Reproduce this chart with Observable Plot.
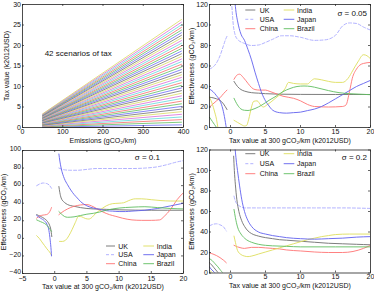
<!DOCTYPE html>
<html><head><meta charset="utf-8">
<script src="https://cdn.jsdelivr.net/npm/d3@7"></script>
<script src="https://cdn.jsdelivr.net/npm/@observablehq/plot@0.6"></script>
<style>
body{margin:0;background:#fff;}
#wrap{position:relative;width:374px;height:294px;overflow:hidden;background:#fff;}
.panel{position:absolute;}
#overlay{position:absolute;left:0;top:0;pointer-events:none;}
</style></head><body><div id="wrap"></div>
<script>
// ---------- DATA ----------
// Panel 1: 42 tax scenarios, expressed as tax value at 300 gCO2/km (k2012USD)
const scenarioTaxAt300 = [0, 0.49, 0.98, 1.46, 1.95, 2.44, 2.93, 3.41, 3.90, 4.39, 4.88, 5.37, 5.85, 6.34,
  6.83, 7.32, 7.80, 8.29, 8.78, 9.27, 9.76, 10.24, 10.73, 11.22, 11.71, 12.20, 12.68, 13.17, 13.66, 14.15,
  14.63, 15.12, 15.61, 16.10, 16.59, 17.07, 17.56, 18.05, 18.54, 19.02, 19.51, 20.0];
const emissionsRange = [50, 395];
const scenarioColors = ["#6b6bf5","#5fbf5f","#f56b6b","#5fd9d9","#d96bd9","#d9d95f","#707070"];

const countries = ["UK","USA","China","India","Japan","Brazil"];
const countryColors = {UK:"#6e6e6e", USA:"#a9a9ff", China:"#ff7373", India:"#dede5c", Japan:"#6161ee", Brazil:"#60bd60"};

// sigma = 0.05
const s005_UK = [[-3,29.5],[-2.5,29],[-2,28],[-1.5,26.5],[-1,23],[-0.5,17.5],[0,null],
  [0.5,45],[1,40],[1.5,37],[2,35.5],[3,34],[4,33.5],[5,33],[7,32.5],[10,32.3],[15,32.2],[20,32.2]];
const s005_USA = [[-3,57],[-2.5,59],[-2,63],[-1.5,70],[-1,80],[-0.7,86],[-0.5,89],[0,null],
  [0.2,118],[0.4,100],[0.6,92],[1,86],[2,82],[3,80],[4,80.5],[5,83],[6,86],[7.3,89.5],[8.5,89.5],[10,88],
  [12,85],[13.5,85.5],[15,90],[16,99],[17,102],[18,101.5],[19,98],[20,95]];
const s005_China = [[-3,20],[-2.5,23],[-2,26],[-1.5,29],[-1,33],[-0.5,36.5],[0,null],
  [0.5,47],[1,51.5],[1.3,52],[1.8,49],[2.5,43],[3,39],[3.5,37],[4.2,36.5],[5,36.5],[5.5,35.5],[6.5,33],
  [7.5,30.5],[9,28.5],[10,26],[11,22.5],[12,20.5],[14,20],[16,20.5],[16.5,22],[17,35],[17.4,48],[18,57],
  [18.5,61],[19,62.5],[20,63.5]];
const s005_India = [[-3,29.5],[-2.6,23],[-2.3,16],[-2,8],[-1.8,0],[-1.6,-8],[0,null],
  [0.5,7],[1,5],[1.5,3],[2,1.5],[2.3,2],[2.6,8],[3,20],[3.3,25.5],[3.8,26],[4.3,22],[4.7,20],[5.2,22],
  [5.8,25],[6.5,29],[7.2,33],[7.8,38],[8.3,44],[9,43],[10,42.5],[11,42.5],[11.6,46],[12,47.5],[13,46.5],
  [14,45],[15,44],[16,44],[16.8,48],[17.5,56],[18.2,64],[19,71],[19.5,70],[20,67]];
const s005_Japan = [[-3,37.5],[-2.5,35],[-2,31],[-1.5,26],[-1.1,18],[-0.8,8],[-0.5,-5],[0,null],
  [0.6,125],[0.8,112],[1,104],[1.5,91],[2,85],[2.5,76],[3,66],[3.5,54],[4,43],[4.5,33],[5,26],[5.5,21],
  [6,17],[7,14.5],[8,14],[9,14.5],[10,15],[11,16.5],[12,18],[13,20.5],[14,24],[15,28],[16,32],[17,36],
  [18,40],[19,43],[20,46]];
const s005_Brazil = [[-3,10],[-2.6,6],[-2.3,3],[-2,0],[-1.8,-3],[0,null],
  [0.5,28.5],[1,22],[1.5,18],[2,16.8],[2.5,16.6],[3,17.3],[3.5,18.5],[4.5,22],[5.5,26.5],[6.5,30.5],
  [7.5,35],[8.5,38],[9.5,40],[10.5,40.5],[11.5,40],[12.5,38.5],[14,36],[15.5,34],[17,33],[18.5,32.5],[20,32]];

// sigma = 0.1
const s01_UK = [[-2.8,27],[-2.2,25],[-1.6,22.5],[-1.1,19],[-0.8,15],[-0.6,10],[-0.45,2],[0,null],
  [0.65,59],[0.8,52],[1,46],[1.5,41],[2,38.5],[3,36.5],[4,35],[5,34],[6,33.5],[8,33],[10,32.5],[15,32],[20,32]];
const s01_USA = [[-2.8,60],[-2.3,62],[-1.8,63],[-1.3,62.5],[-0.9,61],[-0.5,57],[0,null],
  [0.65,80],[1,79],[1.5,78],[2.5,77.5],[3.5,77.5],[5,78.5],[6.5,79.5],[8,79.5],[10,79.5],[12,79.5],[14,80],
  [16,81.5],[17.5,84],[19,87],[20,88.5]];
const s01_China = [[-2.8,23],[-2.3,25.5],[-1.8,26.5],[-1.3,27],[-0.9,29],[-0.6,33],[-0.5,35],[0,null],
  [0.65,27],[1,29],[1.5,31.5],[2,33.5],[3,36.5],[4,38],[5,38.5],[5.7,37],[6.5,34],[7.5,30],[8.5,27],
  [9.5,25],[10.5,23],[12,21],[13.5,20.5],[15,20.5],[16.3,21],[17,25],[18,33],[19,44],[20,52]];
const s01_India = [[-2.8,3],[-2.4,0],[-2,-4],[-1.6,-8],[-1.2,-12],[-0.8,-15.5],[-0.5,-19],[0,null],
  [0.75,-3.5],[1.2,-3.5],[1.7,-2],[2.2,3],[2.7,10],[3.2,18],[3.7,25],[4.2,24.5],[4.8,22.5],[5.3,22],
  [5.8,24],[6.3,28],[7,32],[8,37],[9,39.5],[10,40],[10.7,40.5],[11.5,43],[12.5,45],[13.5,45],[15,44],
  [16.5,43],[18,42.5],[20,42.5]];
const s01_Japan = [[-2.8,26],[-2.2,23],[-1.6,20],[-1.2,16],[-0.9,9],[-0.7,-2],[-0.55,-14],[-0.5,-20],[0,null],
  [0.65,96],[0.8,88],[1,80],[1.5,68],[2,61],[2.5,55],[3,50],[3.5,46],[4,42],[5,37],[6,34.5],[7,33],
  [8,31.5],[9,31],[10,30.5],[11,30.5],[12,31],[13,31.5],[14,32],[15,33],[16,34],[17,35.5],[18,37],
  [19,38.5],[20,40]];
const s01_Brazil = [[-2.8,21],[-2.2,19],[-1.6,17],[-1.1,14],[-0.8,11],[-0.5,8],[0,null],
  [0.65,30.5],[1,28],[1.5,25],[2,24],[3,24.5],[4,26],[5,27.5],[6,28.5],[7,30],[8,32],[9,33.5],[10,34.5],
  [12,35.5],[14,36],[16,35],[18,34],[20,33.5]];

// sigma = 0.2
const s02_UK = [[-3,10],[-2.7,8],[-2.4,5.5],[-2.1,3],[-1.8,0.5],[-1.6,-2],[0,null],
  [0.45,114],[0.55,100],[0.7,86],[0.9,72],[1.2,60],[1.6,51],[2,45.5],[2.5,41],[3,38.5],[4,36],[5,34.5],
  [6,33.5],[7,32.5],[8,32],[10,31],[12,30],[14,29],[16,28.5],[18,28],[20,27.5]];
const s02_USA = [[-3,46],[-2.5,47.5],[-2,48],[-1.5,47],[-1,45],[-0.6,41],[0,null],
  [0.5,75],[0.7,70],[1,67],[1.5,64.5],[2,63.5],[4,63.5],[8,63.5],[12,63.5],[16,63.5],[20,63]];
const s02_China = [[-3,19.5],[-2.5,18.5],[-2,17],[-1.5,15],[-1,12.5],[-0.6,10],[0,null],
  [0.5,27],[1,25.5],[1.5,24.5],[2,24],[3,25],[4,25],[5,24.5],[6,24],[7,23.5],[8,22.5],[10,21.5],[12,20.5],
  [14,20],[16,20],[17.5,21],[19,24],[20,27]];
const s02_India = [[-3,2.5],[-2.7,1],[-2.4,-1],[0,null],
  [0.5,36],[0.7,30],[1,22],[1.5,18],[2,16.5],[2.5,16],[3,16.5],[4,18.5],[5,20.5],[6,22.5],[7,24.5],
  [8,26.5],[9,28.5],[10,30.5],[11,32.5],[12,34],[13,35.5],[14,36.5],[15,37.5],[17,38],[20,38]];
const s02_Japan = [[-3,6],[-2.8,4],[-2.5,2],[-2.2,0],[-2,-2],[0,null],
  [0.6,125],[0.7,118],[0.85,108],[1,100],[1.3,85],[1.6,72],[2,60],[2.5,51],[3,45.5],[4,40],[5,38],
  [6,36.5],[7,35.5],[8,34.5],[10,33.5],[12,33],[14,33.5],[16,34],[18,35],[20,35.5]];
const s02_Brazil = [[-3,14],[-2.6,12],[-2.2,9],[-1.8,6],[-1.4,2.5],[-1.1,0],[-1,-1],[0,null],
  [0.5,62],[0.7,54],[1,45],[1.5,38],[2,34],[2.5,31.5],[3,30],[4,28],[5,27],[6,26.5],[8,26],[10,25.5],
  [15,25.5],[20,25.5]];

const xTicks1 = [0, 100, 200, 300, 400];
const yTicks1 = [0, 5, 10, 15, 20, 25, 30];
const xTicksTax = [0, 5, 10, 15, 20];
const xTicksTax3 = [-5, 0, 5, 10, 15, 20];
const yTicks120 = [0, 20, 40, 60, 80, 100, 120];
const yTicks3 = [-40, -20, 0, 20, 40, 60, 80, 100];

// ---------- RENDER ----------
const FONT = '"Liberation Sans", Arial, Helvetica, sans-serif';
const wrap = document.getElementById("wrap");

function panel({left, top, mt, mb, xDomain, yDomain, xTicks, yTicks, xLabel, yLabel, yLabelOffset, marks, xPad = 1.5, yDy = 0, yFont = 7}) {
  const W = 187, H = 147, ml = 22, mr = 4;
  const pw = W - ml - mr, ph = H - mt - mb;
  const ink = "#222";
  const svg = Plot.plot({
    width: W, height: H, marginLeft: ml, marginRight: mr, marginTop: mt, marginBottom: mb,
    x: {domain: xDomain}, y: {domain: yDomain},
    color: {type: "identity"},
    style: {fontFamily: FONT, fontSize: "7px", background: "transparent", color: "#111", overflow: "visible"},
    marks: [
      ...marks,
      Plot.ruleX(xTicks, {x: d => d, insetTop: ph - 2, stroke: ink, strokeWidth: 0.7}),
      Plot.ruleX(xTicks, {x: d => d, insetBottom: ph - 2, stroke: ink, strokeWidth: 0.7}),
      Plot.ruleY(yTicks, {y: d => d, insetRight: pw - 2, stroke: ink, strokeWidth: 0.7}),
      Plot.ruleY(yTicks, {y: d => d, insetLeft: pw - 2, stroke: ink, strokeWidth: 0.7}),
      Plot.frame({stroke: ink, strokeWidth: 0.8}),
      Plot.axisX(xTicks, {tickSize: 0, tickPadding: xPad, label: xLabel, labelAnchor: "center", labelOffset: 15, labelArrow: "none"}),
      Plot.axisY(yTicks, {tickSize: 0, tickPadding: 1.5, dy: yDy, fontSize: yFont, label: null}),
      Plot.axisY({tickSize: 0, ticks: [], label: yLabel, labelAnchor: "center", labelOffset: yLabelOffset, labelArrow: "none", fontSize: 7})
    ]
  });
  const div = document.createElement("div");
  div.className = "panel";
  div.style.left = left + "px";
  div.style.top = top + "px";
  div.appendChild(svg);
  wrap.appendChild(div);
}

function countryLines(series) {
  return countries.map(c => Plot.line(series[c], {
    x: d => d[0], y: d => d[1], stroke: countryColors[c], strokeWidth: 0.9,
    strokeDasharray: c === "USA" ? "3,2" : null, curve: "monotone-x", clip: true
  }));
}

// Panel 1
const scenarioRows = [];
scenarioTaxAt300.forEach((t, i) => {
  emissionsRange.forEach(e => scenarioRows.push({i, e, tax: t * e / 300, color: scenarioColors[(i + 6) % 7]}));
});
panel({left: 0, top: 0, mt: 4, mb: 20, xDomain: [0, 400], yDomain: [0, 30], xTicks: xTicks1, yTicks: yTicks1,
  xLabel: "Emissions (gCO₂/km)", yLabel: "Tax value (k2012USD)", yLabelOffset: 18,
  marks: [
    Plot.line(scenarioRows, {x: "e", y: "tax", z: "i", stroke: "color", strokeWidth: 0.8}),
    Plot.text(["42 scenarios of tax"], {x: 55, y: 18, text: d => d, textAnchor: "start", fontSize: 8, fill: "#111"})
  ]});

const effLabel = "Effectiveness (gCO₂/km)";
const taxLabel = "Tax value at 300 gCO₂/km (k2012USD)";

panel({left: 187, top: 0, mt: 4, mb: 20, xDomain: [-3, 20], yDomain: [0, 120], xTicks: xTicksTax, yTicks: yTicks120,
  xLabel: taxLabel, yLabel: effLabel, yLabelOffset: 20.5,
  marks: countryLines({UK: s005_UK, USA: s005_USA, China: s005_China, India: s005_India, Japan: s005_Japan, Brazil: s005_Brazil})});

panel({left: 0, top: 147, mt: 3, mb: 21, xDomain: [-5, 20], yDomain: [-40, 100], xTicks: xTicksTax3, yTicks: yTicks3,
  xLabel: taxLabel, yLabel: effLabel, yLabelOffset: 21.5, xPad: 2.5, yDy: -1.5, yFont: 6.8,
  marks: countryLines({UK: s01_UK, USA: s01_USA, China: s01_China, India: s01_India, Japan: s01_Japan, Brazil: s01_Brazil})});

panel({left: 187, top: 147, mt: 2.5, mb: 21.5, xDomain: [-3, 20], yDomain: [0, 120], xTicks: xTicksTax, yTicks: yTicks120,
  xLabel: taxLabel, yLabel: effLabel, yLabelOffset: 20.5,
  marks: countryLines({UK: s02_UK, USA: s02_USA, China: s02_China, India: s02_India, Japan: s02_Japan, Brazil: s02_Brazil})});

// ---------- Legends & sigma labels (overlay) ----------
const NS = "http://www.w3.org/2000/svg";
const ov = document.createElementNS(NS, "svg");
ov.setAttribute("id", "overlay");
ov.setAttribute("width", 374);
ov.setAttribute("height", 294);
ov.style.fontFamily = FONT;
wrap.appendChild(ov);

function addText(x, y, str, size, anchor) {
  const t = document.createElementNS(NS, "text");
  t.setAttribute("x", x); t.setAttribute("y", y);
  t.setAttribute("font-size", size);
  t.setAttribute("fill", "#111");
  t.setAttribute("text-anchor", anchor || "start");
  t.setAttribute("dominant-baseline", "central");
  t.textContent = str;
  ov.appendChild(t);
}
function addLine(x1, x2, y, c) {
  const l = document.createElementNS(NS, "line");
  l.setAttribute("x1", x1); l.setAttribute("x2", x2);
  l.setAttribute("y1", y); l.setAttribute("y2", y);
  l.setAttribute("stroke", countryColors[c]);
  l.setAttribute("stroke-width", 0.9);
  if (c === "USA") l.setAttribute("stroke-dasharray", "3,2");
  ov.appendChild(l);
}
function legend(cfg) {
  const cols = [["UK","USA","China"],["India","Japan","Brazil"]];
  cols.forEach((col, ci) => col.forEach((c, ri) => {
    const y = cfg.rows[ri];
    addLine(cfg.lines[ci][0], cfg.lines[ci][1], y, c);
    addText(cfg.texts[ci], y, c, 7);
  }));
}
legend({lines: [[245.3, 255.3], [283.7, 294.3]], texts: [259.7, 297], rows: [10, 19.3, 28.7]});
legend({lines: [[106, 115], [143.3, 154]], texts: [118.3, 156.7], rows: [246, 254.7, 263.7]});
legend({lines: [[245.3, 255.3], [283.7, 294.3]], texts: [259.7, 297], rows: [153.7, 163.7, 173.7]});
addText(367, 13.3, "σ = 0.05", 8, "end");
addText(160, 157, "σ = 0.1", 8, "end");
addText(367, 157, "σ = 0.2", 8, "end");
</script></body></html>
